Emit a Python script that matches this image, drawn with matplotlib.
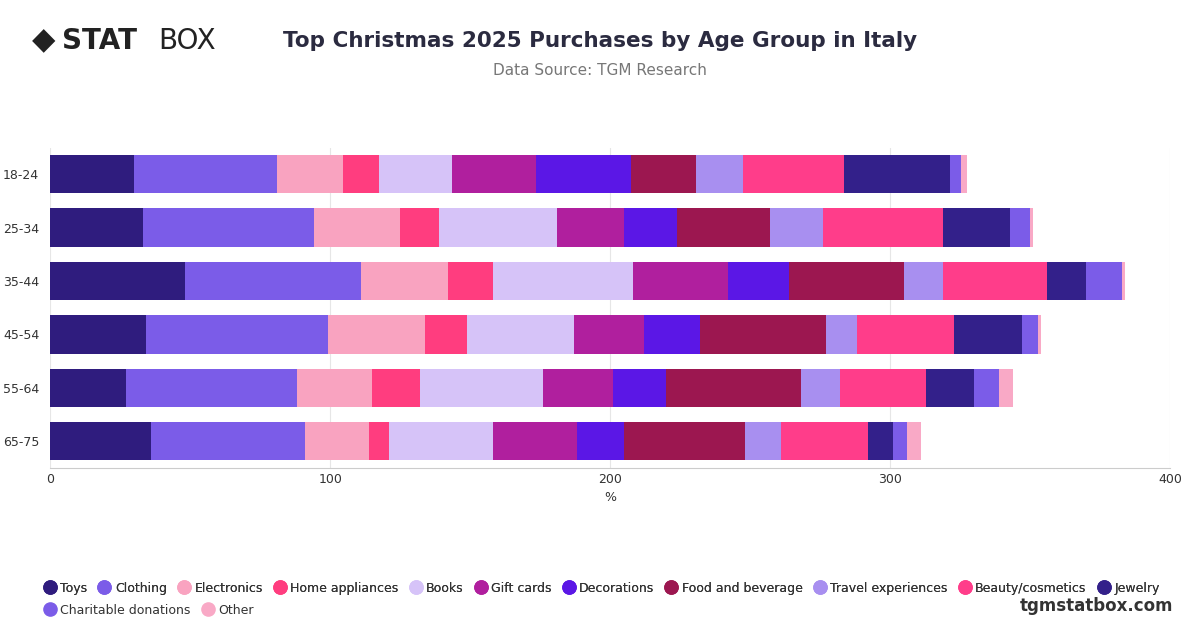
import matplotlib
matplotlib.use("Agg")
import matplotlib.pyplot as plt
import numpy as np

ages = ["18-24", "25-34", "35-44", "45-54", "55-64", "65-75"]
categories = ["Toys", "Clothing", "Electronics", "Home appliances", "Books", "Gift cards",
              "Decorations", "Food and beverage", "Travel experiences", "Beauty/cosmetics",
              "Jewelry", "Charitable donations", "Other"]
toys = [30, 33, 48, 34, 27, 36]
clothing = [51, 61, 63, 65, 61, 55]
electronics = [23.5, 31, 31, 35, 27, 23]
home = [13, 14, 16, 15, 17, 7]
books = [26, 42, 50, 38, 44, 37]
gift = [30, 24, 34, 25, 25, 30]
decor = [34, 19, 22, 20, 19, 17]
food = [23, 33, 41, 45, 48, 43]
travel = [17, 19, 14, 11, 14, 13]
beauty = [36, 43, 37, 35, 31, 31]
jewelry = [38, 24, 14, 24, 17, 9]
charity = [4, 7, 13, 6, 9, 5]
other = [2, 1, 1, 1, 5, 5]
series = [toys, clothing, electronics, home, books, gift, decor, food, travel, beauty, jewelry, charity, other]
colors = ["#2f1c7e", "#7b5ce8", "#f9a3c0", "#ff3d7f", "#d6c3f8", "#b01f9e", "#5b17e6",
          "#9c1750", "#a88ff0", "#ff3d8a", "#33208a", "#7b5ce8", "#f9a9c6"]

fig = plt.figure(figsize=(12, 6.28), dpi=100)
ax = fig.add_axes([0.042, 0.255, 0.933, 0.51])
y = np.arange(len(ages))
left = np.zeros(len(ages))
for vals, c in zip(series, colors):
    ax.barh(y, vals, left=left, color=c, height=0.72, zorder=3)
    left += np.array(vals)
ax.set_ylim(len(ages) - 0.5, -0.5)
ax.set_xlim(0, 400)
ax.set_xticks([0, 100, 200, 300, 400])
ax.set_yticks(y)
ax.set_yticklabels(ages)
ax.tick_params(axis="both", length=0, labelsize=9, colors="#333333")
ax.tick_params(axis="y", pad=8)
ax.grid(axis="x", color="#e6e6e6", zorder=0)
for s in ax.spines.values():
    s.set_visible(False)
ax.spines["bottom"].set_visible(True)
ax.spines["bottom"].set_color("#cccccc")
ax.set_xlabel("%", fontsize=9, color="#333333")

fig.text(0.5, 0.935, "Top Christmas 2025 Purchases by Age Group in Italy", ha="center",
         va="center", fontsize=15.5, fontweight="bold", color="#2b2b40")
fig.text(0.5, 0.887, "Data Source: TGM Research", ha="center", va="center", fontsize=11, color="#777777")
fig.text(0.052, 0.935, "STAT", ha="left", va="center", fontsize=20, fontweight="bold", color="#222222")
fig.text(0.132, 0.935, "BOX", ha="left", va="center", fontsize=20, color="#222222")
fig.text(0.036, 0.935, "◆", ha="center", va="center", fontsize=22, color="#222222")
fig.text(0.978, 0.035, "tgmstatbox.com", ha="right", va="center", fontsize=12, fontweight="bold", color="#333333")

def handle(c):
    return plt.Line2D([], [], marker="o", ls="", markersize=9.5, markerfacecolor=c, markeredgecolor=c)

kw = dict(loc="lower left", frameon=False, fontsize=9, handletextpad=0.15, handlelength=1.4,
          columnspacing=0.65, labelcolor="#333333", borderaxespad=0)
leg1 = fig.legend([handle(c) for c in colors[:11]], categories[:11], ncol=11,
                  bbox_to_anchor=(0.03, 0.045), **kw)
fig.add_artist(leg1)
fig.legend([handle(c) for c in colors[11:]], categories[11:], ncol=2,
           bbox_to_anchor=(0.03, 0.01), **kw)
fig.savefig("out.png")
